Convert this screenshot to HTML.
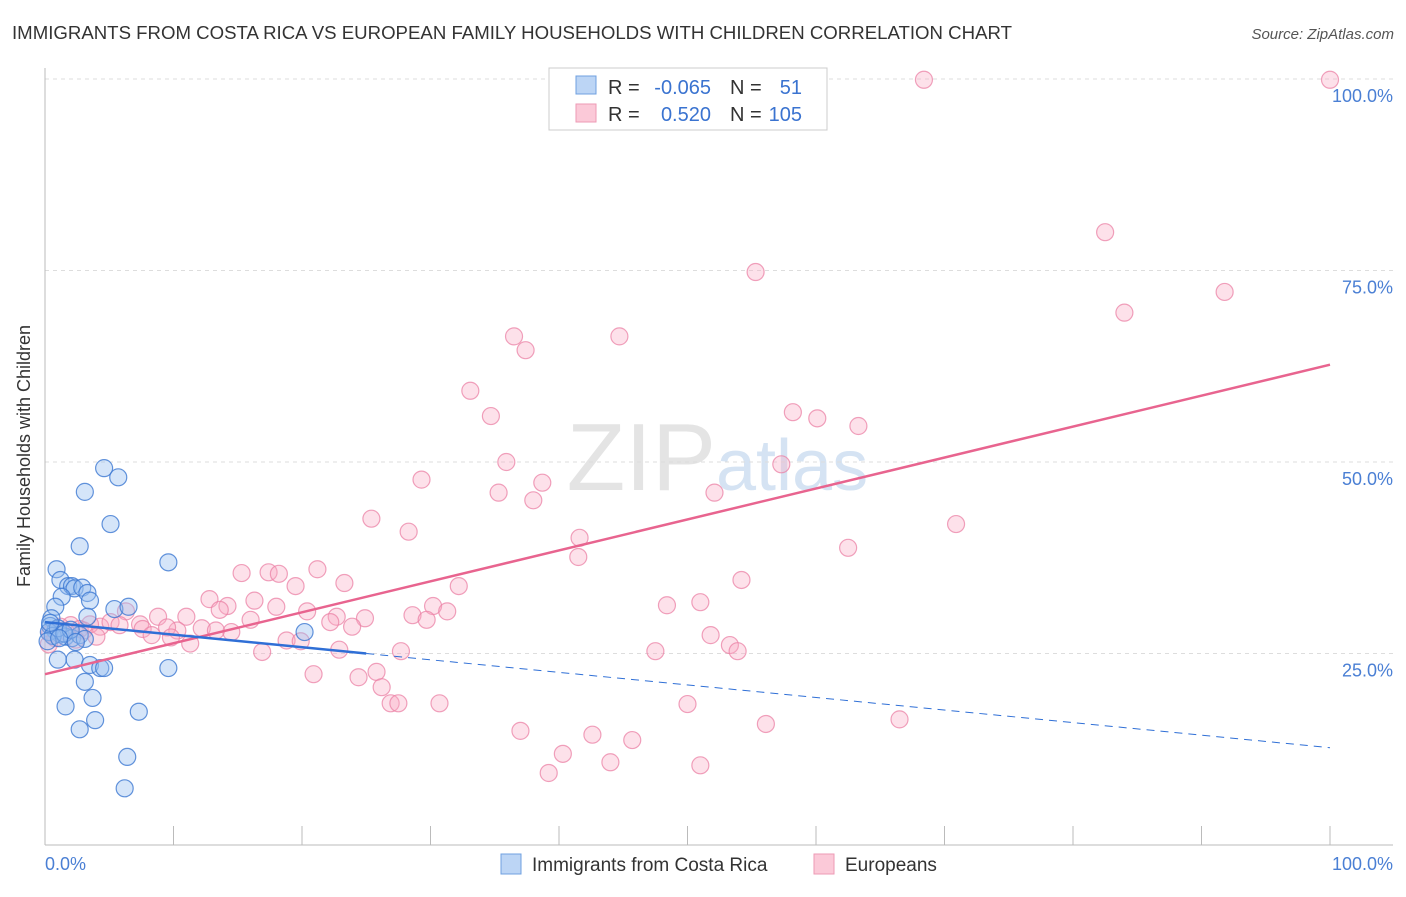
<!DOCTYPE html>
<html><head><meta charset="utf-8">
<style>
body{margin:0;background:#fff;font-family:"Liberation Sans",sans-serif;}
svg text{font-family:"Liberation Sans",sans-serif;}
</style></head>
<body>
<svg width="1406" height="892" viewBox="0 0 1406 892">
<text x="12" y="39" font-size="18" fill="#333" textLength="1000" lengthAdjust="spacingAndGlyphs">IMMIGRANTS FROM COSTA RICA VS EUROPEAN FAMILY HOUSEHOLDS WITH CHILDREN CORRELATION CHART</text>
<text x="1394" y="39" font-size="15" fill="#555" font-style="italic" text-anchor="end">Source: ZipAtlas.com</text>
<text x="716" y="490" font-size="96" fill="#e4e4e4" text-anchor="end" font-family="Liberation Serif">ZIP</text>
<text x="716" y="490" font-size="72" fill="#d5e3f3">atlas</text>
<g id="grid"></g>
<line x1="45" y1="68" x2="45" y2="845" stroke="#bbb"/>
<line x1="45" y1="845" x2="1393" y2="845" stroke="#bbb"/>
<g id="ticks"></g>
<text x="30" y="456" font-size="18" fill="#333" text-anchor="middle" transform="rotate(-90 30 456)">Family Households with Children</text>
<text x="45" y="870" font-size="18" fill="#4a7fd4">0.0%</text>
<text x="1393" y="870" font-size="18" fill="#4a7fd4" text-anchor="end">100.0%</text>
<g id="pts"></g>
<g id="lines"></g>
<g>
<rect x="549" y="68" width="278" height="62" fill="#fff" stroke="#ccc"/>
<rect x="576" y="76" width="20" height="18" fill="#bcd5f5" stroke="#6fa0e0"/>
<rect x="576" y="104" width="20" height="18" fill="#fbc9d8" stroke="#ee9ab5"/>
<text x="608" y="94" font-size="20" fill="#333">R =</text>
<text x="711" y="94" font-size="20" fill="#3a73d0" text-anchor="end">-0.065</text>
<text x="730" y="94" font-size="20" fill="#333">N =</text>
<text x="802" y="94" font-size="20" fill="#3a73d0" text-anchor="end">51</text>
<text x="608" y="121" font-size="20" fill="#333">R =</text>
<text x="711" y="121" font-size="20" fill="#3a73d0" text-anchor="end">0.520</text>
<text x="730" y="121" font-size="20" fill="#333">N =</text>
<text x="802" y="121" font-size="20" fill="#3a73d0" text-anchor="end">105</text>
</g>
<g>
<rect x="501" y="854" width="20" height="20" fill="#bcd5f5" stroke="#6fa0e0"/>
<text x="532" y="871" font-size="19" fill="#333">Immigrants from Costa Rica</text>
<rect x="814" y="854" width="20" height="20" fill="#fbc9d8" stroke="#ee9ab5"/>
<text x="845" y="871" font-size="19" fill="#333">Europeans</text>
</g>
</svg>
<script>
const yTicks=[25,50,75,100];
const yTickLabels=["25.0%","50.0%","75.0%","100.0%"];
const xTicks=[0,10,20,30,40,50,60,70,80,90,100];
const blueX=[4.6,5.7,3.1,5.1,2.7,9.6,0.9,1.2,1.8,2.1,2.3,2.9,3.3,1.3,3.5,0.8,5.4,6.5,3.3,0.5,0.4,0.8,1.2,1.6,2.1,2.7,3.1,20.2,1.0,2.3,3.5,4.3,4.6,9.6,3.1,3.7,1.6,7.3,3.9,2.7,6.4,6.2,0.3,0.6,1.0,1.5,2.0,0.2,0.4,1.1,2.4];
const blueY=[49.2,48.0,46.1,41.9,39.0,36.9,36.0,34.6,33.8,33.8,33.5,33.6,32.9,32.4,31.9,31.1,30.8,31.1,29.8,29.6,28.6,28.0,27.5,27.2,27.0,27.4,26.9,27.8,24.2,24.2,23.5,23.1,23.1,23.1,21.3,19.2,18.1,17.4,16.3,15.1,11.5,7.4,27.8,27.3,28.3,27.6,28.1,26.6,29.0,27.0,26.5];
const pinkX=[68.4,100,82.5,55.3,91.8,84.0,36.5,44.7,37.4,33.1,34.7,58.2,60.1,63.3,35.9,57.3,29.3,38.7,35.3,52.1,38.0,25.4,70.9,28.3,41.6,62.5,41.5,15.3,17.4,18.2,21.2,23.3,32.2,19.5,54.2,12.8,16.3,14.2,13.6,18.0,48.4,51.0,30.2,31.3,28.6,29.7,24.9,22.7,20.4,11.0,8.8,6.3,16.0,22.2,23.9,10.3,9.5,7.4,7.6,12.2,14.5,13.3,8.3,9.8,11.3,4.3,5.1,3.5,2.0,1.2,2.7,0.4,18.8,19.9,51.8,53.3,53.9,47.5,16.9,27.7,22.9,20.9,25.8,24.4,26.2,26.9,27.5,30.7,50.0,66.5,56.1,37.0,42.6,45.7,40.3,44.0,51.0,39.2,0.8,1.6,2.4,3.0,4.0,5.8,0.3];
const pinkY=[99.9,99.9,80.0,74.8,72.2,69.5,66.4,66.4,64.6,59.3,56.0,56.5,55.7,54.7,50.0,49.7,47.7,47.3,46.0,46.0,45.0,42.6,41.9,40.9,40.1,38.8,37.6,35.5,35.6,35.4,36.0,34.2,33.8,33.8,34.6,32.1,31.9,31.2,30.7,31.1,31.3,31.7,31.2,30.5,30.0,29.4,29.6,29.8,30.5,29.8,29.8,30.5,29.4,29.1,28.5,28.0,28.4,28.8,28.2,28.3,27.8,28.0,27.4,27.1,26.3,28.5,29.1,28.8,28.7,28.5,28.2,27.6,26.7,26.6,27.4,26.1,25.3,25.3,25.2,25.3,25.5,22.3,22.6,21.9,20.6,18.5,18.5,18.5,18.4,16.4,15.8,14.9,14.4,13.7,11.9,10.8,10.4,9.4,27.0,27.9,26.8,28.0,27.2,28.7,26.2];
const blueTrend=[29.1,12.7];
const blueSolidEnd=25;
const pinkTrend=[22.3,62.7];
const NS="http://www.w3.org/2000/svg";
const X=v=>45+v*12.85, Y=v=>845-v*7.66;
function mk(tag,attrs,parent){const e=document.createElementNS(NS,tag);for(const k in attrs)e.setAttribute(k,attrs[k]);parent.appendChild(e);return e;}
const grid=document.getElementById('grid'),ticks=document.getElementById('ticks'),pts=document.getElementById('pts'),lines=document.getElementById('lines');
yTicks.forEach((t,i)=>{
 const l=mk('line',{x1:45,x2:1393,y1:Y(t),y2:Y(t),stroke:'#ddd','stroke-dasharray':'4,4'},grid);
 
 
 const tx=mk('text',{x:1393,y:Y(t)+23,'font-size':18,fill:'#4a7fd4','text-anchor':'end'},grid);
 tx.textContent=yTickLabels[i];
 
 
});
xTicks.forEach(t=>{
 const l=mk('line',{x1:X(t),x2:X(t),y1:826,y2:845,stroke:'#bbb'},ticks);
 
 
});
pinkX.forEach((x,i)=>{
 const c=mk('circle',{cx:X(x),cy:Y(pinkY[i]),r:8.5,fill:'rgba(248,170,195,0.35)',stroke:'rgba(235,130,165,0.75)','stroke-width':1.2},pts);
 
 
});
blueX.forEach((x,i)=>{
 const c=mk('circle',{cx:X(x),cy:Y(blueY[i]),r:8.5,fill:'rgba(150,190,240,0.4)',stroke:'rgba(60,120,210,0.8)','stroke-width':1.2},pts);
 
 
});
const bAt=x=>blueTrend[0]+(blueTrend[1]-blueTrend[0])*x/100;
let l1=mk('line',{x1:X(0),y1:Y(pinkTrend[0]),x2:X(100),y2:Y(pinkTrend[1]),stroke:'#e8648f','stroke-width':2.5},lines);


let l2=mk('line',{x1:X(0),y1:Y(bAt(0)),x2:X(blueSolidEnd),y2:Y(bAt(blueSolidEnd)),stroke:'#2f6fd6','stroke-width':2.5},lines);


let l3=mk('line',{x1:X(blueSolidEnd),y1:Y(bAt(blueSolidEnd)),x2:X(100),y2:Y(bAt(100)),stroke:'#2f6fd6','stroke-width':1,'stroke-dasharray':'8,6'},lines);


</script>
</body></html>
